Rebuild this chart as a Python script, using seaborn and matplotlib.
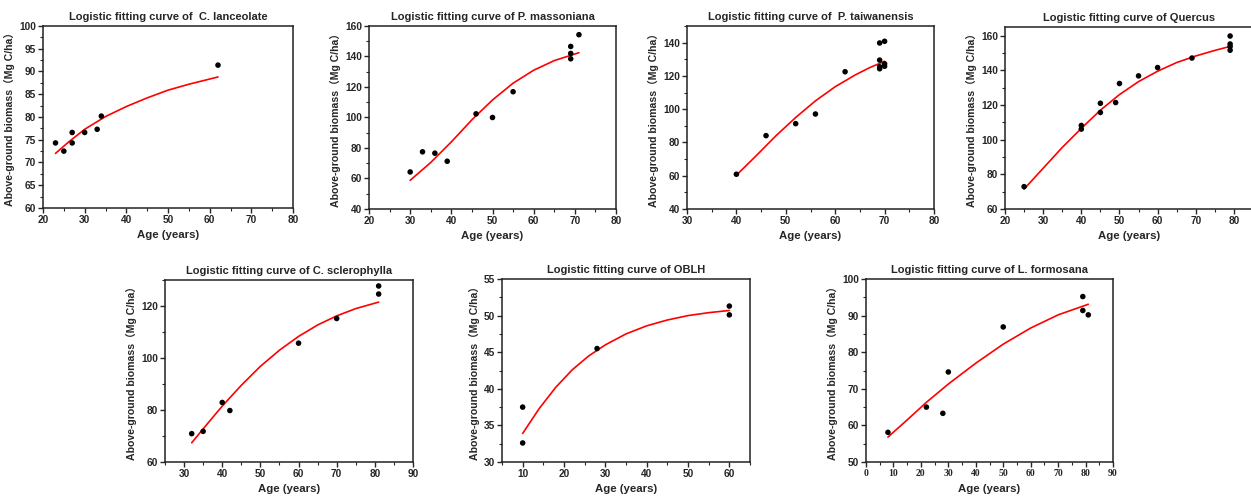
import numpy as np
import pandas as pd
import matplotlib
matplotlib.use("Agg")
import matplotlib.pyplot as plt
from matplotlib.ticker import MultipleLocator
import seaborn as sns

# observed plots (age in years, above-ground biomass in Mg C/ha)
lanc_age = [23, 25, 27, 27, 30, 33, 34, 62]
lanc_bio = [74.3, 72.5, 76.6, 74.3, 76.6, 77.3, 80.2, 91.4]
lanc_fit_age = [23, 26, 30, 35, 40, 45, 50, 55, 62]
lanc_fit = [72.0, 74.4, 77.3, 80.1, 82.3, 84.2, 85.9, 87.2, 88.8]

mass_age = [30, 33, 36, 39, 46, 50, 55, 69, 69, 69, 71]
mass_bio = [64.3, 77.5, 76.6, 71.3, 102.4, 100.0, 116.9, 146.6, 142.0, 138.5, 154.3]
mass_fit_age = [30, 35, 40, 45, 50, 55, 60, 65, 71]
mass_fit = [58.8, 70.5, 84.0, 98.5, 111.5, 122.5, 131.0, 137.3, 142.5]

taiw_age = [40, 46, 52, 56, 62, 69, 69, 69, 69, 70, 70, 70]
taiw_bio = [60.9, 84.1, 91.3, 97.1, 122.5, 139.8, 129.5, 125.5, 124.3, 140.8, 127.3, 125.8]
taiw_fit_age = [40, 44, 48, 52, 56, 60, 64, 67, 70]
taiw_fit = [60.3, 72.0, 84.0, 95.0, 105.0, 113.5, 120.5, 125.0, 128.8]

quer_age = [25, 40, 40, 45, 45, 49, 50, 55, 60, 69, 79, 79, 79, 79]
quer_bio = [72.9, 108.2, 106.1, 121.0, 115.7, 121.4, 132.4, 136.8, 141.6, 147.1, 159.8, 155.2, 153.7, 151.6]
quer_fit_age = [25, 30, 35, 40, 45, 50, 55, 60, 65, 70, 75, 79]
quer_fit = [71.5, 83.5, 95.5, 106.5, 117.0, 126.0, 133.5, 139.5, 144.5, 148.3, 151.5, 153.8]

scle_age = [32, 35, 40, 42, 60, 70, 81, 81]
scle_bio = [70.9, 71.8, 82.9, 79.8, 105.7, 115.2, 127.7, 124.6]
scle_fit_age = [32, 36, 40, 45, 50, 55, 60, 65, 70, 75, 81]
scle_fit = [67.4, 74.5, 81.5, 89.5, 96.8, 103.0, 108.3, 112.7, 116.2, 119.0, 121.5]

oblh_age = [10, 10, 28, 60, 60]
oblh_bio = [37.5, 32.6, 45.5, 51.3, 50.1]
oblh_fit_age = [10, 14, 18, 22, 26, 30, 35, 40, 45, 50, 55, 60]
oblh_fit = [33.9, 37.3, 40.2, 42.6, 44.5, 46.0, 47.5, 48.6, 49.4, 50.0, 50.4, 50.7]

form_age = [8, 22, 28, 30, 50, 79, 79, 81]
form_bio = [58.1, 65.0, 63.3, 74.6, 86.9, 95.2, 91.4, 90.2]
form_fit_age = [8, 15, 22, 30, 40, 50, 60, 70, 81]
form_fit = [56.8, 61.5, 66.3, 71.3, 77.0, 82.2, 86.6, 90.2, 93.1]

sns.set_style("ticks")
plt.rcParams['font.family'] = ['Liberation Sans', 'Noto Sans CJK SC', 'DejaVu Sans']
plt.rcParams['font.weight'] = 'bold'

W, H = 1251, 500
fig = plt.figure(figsize=(W / 100, H / 100), dpi=100)

panels = [
    # title, obs x, obs y, fit x, fit y, box px (l, t, r, b), xlim, ylim, x step, y step
    ("Logistic fitting curve of  C. lanceolate", lanc_age, lanc_bio, lanc_fit_age, lanc_fit,
     (43, 26, 293, 208), (20, 80), (60, 100), 10, 5),
    ("Logistic fitting curve of P. massoniana", mass_age, mass_bio, mass_fit_age, mass_fit,
     (369, 26, 616, 209), (20, 80), (40, 160), 10, 20),
    ("Logistic fitting curve of  P. taiwanensis", taiw_age, taiw_bio, taiw_fit_age, taiw_fit,
     (687, 26, 934, 209), (30, 80), (40, 150), 10, 20),
    ("Logistic fitting curve of Quercus", quer_age, quer_bio, quer_fit_age, quer_fit,
     (1005, 27, 1253, 209), (20, 85), (60, 165), 10, 20),
    ("Logistic fitting curve of C. sclerophylla", scle_age, scle_bio, scle_fit_age, scle_fit,
     (165, 280, 413, 462), (25, 90), (60, 130), 10, 20),
    ("Logistic fitting curve of OBLH", oblh_age, oblh_bio, oblh_fit_age, oblh_fit,
     (502, 279, 750, 462), (5, 65), (30, 55), 10, 5),
    ("Logistic fitting curve of L. formosana", form_age, form_bio, form_fit_age, form_fit,
     (866, 279, 1113, 462), (0, 90), (50, 100), 10, 10),
]

for i, (title, ox, oy, fx, fy, box, xl, yl, xs, ys) in enumerate(panels):
    l, t, r, b = box
    ax = fig.add_axes([l / W, 1 - b / H, (r - l) / W, (b - t) / H])
    obs = pd.DataFrame({"age": ox, "biomass": oy})
    fit = pd.DataFrame({"age": fx, "biomass": fy})
    sns.lineplot(data=fit, x="age", y="biomass", ax=ax, color="red", lw=1.2, zorder=2)
    sns.scatterplot(data=obs, x="age", y="biomass", ax=ax, color="black", s=16,
                    edgecolor="none", zorder=3)
    ax.set_xlim(xl)
    ax.set_ylim(yl)
    ax.xaxis.set_major_locator(MultipleLocator(xs))
    ax.xaxis.set_minor_locator(MultipleLocator(xs / 2))
    ax.yaxis.set_major_locator(MultipleLocator(ys))
    ax.yaxis.set_minor_locator(MultipleLocator(ys / 2))
    if i == 3:
        ax.set_xticks([20, 30, 40, 50, 60, 70, 80])
    if i == 4:
        ax.set_xticks([30, 40, 50, 60, 70, 80, 90])
    for s in ax.spines.values():
        s.set_linewidth(1.1)
        s.set_color("#222222")
    ax.tick_params(which="major", direction="out", length=3.5, width=1.0,
                   labelsize=7.3, pad=1.5)
    ax.tick_params(which="minor", direction="out", length=2, width=0.8)
    for lab in ax.get_xticklabels() + ax.get_yticklabels():
        lab.set_fontweight("bold")
    if i == 6:
        for lab in ax.get_xticklabels():
            lab.set_family("Liberation Serif")
            lab.set_fontsize(7)
    ax.set_title(title, fontsize=8, fontweight="bold", pad=4)
    ax.set_xlabel("Age (years)", fontsize=8.2, fontweight="bold", labelpad=4)
    ax.set_ylabel("Above-ground biomass（Mg C/ha）", fontsize=7.6, fontweight="bold", labelpad=3)

plt.savefig("out.png", dpi=100)
